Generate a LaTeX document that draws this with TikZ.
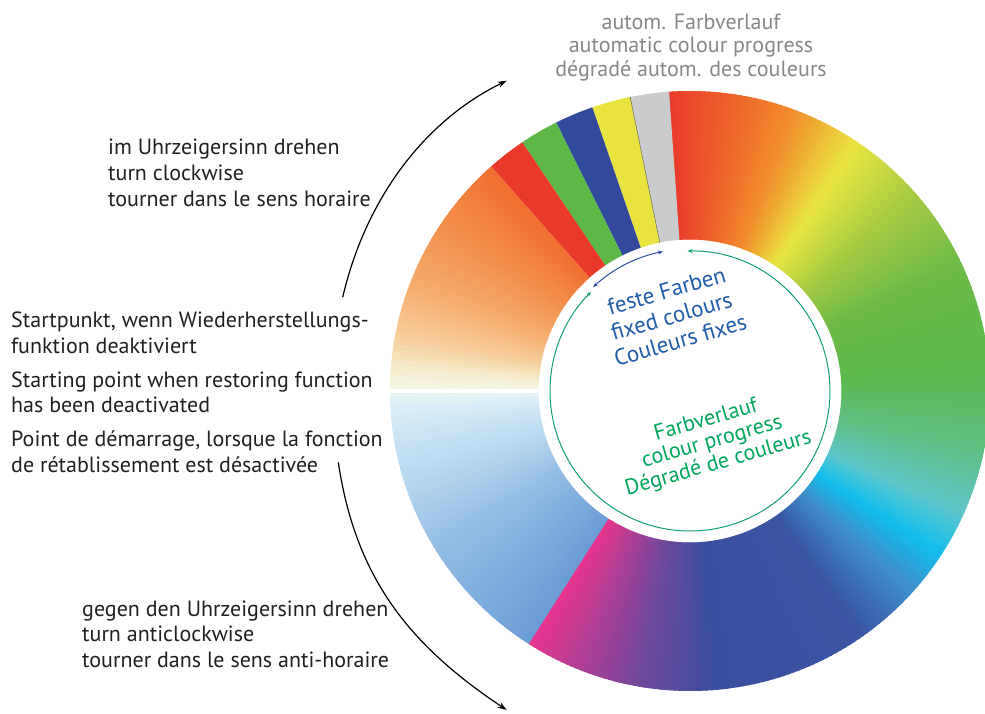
\documentclass[tikz,border=0pt]{standalone}
\usepackage{fontspec}
\setmainfont{PT Sans}
\usetikzlibrary{arrows.meta}
\definecolor{txt}{HTML}{231F20}
\definecolor{greytxt}{HTML}{858789}
\definecolor{bluetxt}{HTML}{1F5CA9}
\definecolor{greentxt}{HTML}{00A65A}
\definecolor{greenarc}{HTML}{12A06A}
\definecolor{bluearc}{HTML}{2B4EA2}
% gradient stops
\definecolor{g01}{HTML}{E8348E}
\definecolor{g02}{HTML}{72489C}
\definecolor{g03}{HTML}{3A4E9F}
\definecolor{g04}{HTML}{3A55A3}
\definecolor{g05}{HTML}{3E8ECB}
\definecolor{g06}{HTML}{12BEEE}
\definecolor{g07}{HTML}{5EC6CA}
\definecolor{g08}{HTML}{5FBF85}
\definecolor{g09}{HTML}{5CB84B}
\definecolor{g10}{HTML}{6DBA46}
\definecolor{g11}{HTML}{A9CC42}
\definecolor{g12}{HTML}{E9E542}
\definecolor{g13}{HTML}{F28C2C}
\definecolor{g14}{HTML}{EE6A2A}
\definecolor{g15}{HTML}{E93B2B}
\definecolor{o1}{HTML}{F07030}
\definecolor{o2}{HTML}{F38C48}
\definecolor{o3}{HTML}{F5AE70}
\definecolor{o4}{HTML}{F7D0A0}
\definecolor{o5}{HTML}{F6EDCF}
\definecolor{o6}{HTML}{F3F7E6}
\definecolor{b1}{HTML}{EAF5F4}
\definecolor{b2}{HTML}{D6ECF7}
\definecolor{b3}{HTML}{BCDCF2}
\definecolor{b4}{HTML}{98C0E5}
\definecolor{b5}{HTML}{7EACDC}
\definecolor{b6}{HTML}{6C9CD5}
\definecolor{fgrey}{HTML}{C9CBCD}
\definecolor{fyellow}{HTML}{E8E33F}
\definecolor{fblue}{HTML}{33499C}
\definecolor{fgreen}{HTML}{5DB847}
\definecolor{fred}{HTML}{E8392A}
\def\Rin{151.5}
\def\Rout{300}
\newcommand\ringseg[4]{%
  \pgfmathsetmacro\rsd{#2-#1}%
  \pgfmathtruncatemacro\rsn{max(1,round(\rsd))}%
  \foreach \rsi in {1,...,\rsn}{%
    \pgfmathsetmacro\rsa{#1+(\rsi-1)*\rsd/\rsn}%
    \pgfmathsetmacro\rsb{#1+\rsi*\rsd/\rsn+0.5}%
    \pgfmathsetmacro\rsp{100*(\rsi-0.5)/\rsn}%
    \fill[#4!\rsp!#3] (\rsa:\Rin) arc[start angle=\rsa,end angle=\rsb,radius=\Rin]
      -- (\rsb:\Rout) arc[start angle=\rsb,end angle=\rsa,radius=\Rout] -- cycle;
  }%
}
\newcommand\ringband[3]{%
  \fill[#3] (#1:\Rin) arc[start angle=#1,end angle=#2,radius=\Rin]
    -- (#2:\Rout) arc[start angle=#2,end angle=#1,radius=\Rout] -- cycle;
}
\tikzset{
  lbl/.style={text=txt, font=\fontsize{22}{26}\selectfont, inner sep=0pt},
  toplbl/.style={text=greytxt, font=\fontsize{22}{24}\selectfont, inner sep=0pt, anchor=base},
  fixlbl/.style={text=bluetxt, font=\fontsize{23}{25.7}\selectfont, inner sep=0pt, align=left, anchor=base west, rotate=16},
  proglbl/.style={text=greentxt, font=\fontsize{22}{22.4}\selectfont, inner sep=0pt, align=center, anchor=base, rotate=16},
  rotarrow/.style={draw=black, line width=1.2pt, -{Stealth[length=9pt,width=6pt]}},
  ringarrow/.style={line width=1pt, {Stealth[length=5pt,width=4pt]}-{Stealth[length=5pt,width=4pt]}},
}
\begin{document}
\begin{tikzpicture}[x=1pt,y=1pt]
\useasboundingbox (0,0) rectangle (985,713);
\clip (0,0) rectangle (985,713);
\begin{scope}[shift={(690,322)}]
  % orange region (left top)
  \ringseg{131.5}{145}{o1}{o2}
  \ringseg{145}{160}{o2}{o3}
  \ringseg{160}{170}{o3}{o4}
  \ringseg{170}{176}{o4}{o5}
  \ringseg{176}{180}{o5}{o6}
  % light blue region (left bottom)
  \ringseg{180}{184}{b1}{b2}
  \ringseg{184}{195}{b2}{b3}
  \ringseg{195}{210}{b3}{b4}
  \ringseg{210}{225}{b4}{b5}
  \ringseg{225}{237.5}{b5}{b6}
  % main colour progress
  \ringseg{-122.5}{-100}{g01}{g02}
  \ringseg{-100}{-85}{g02}{g03}
  \ringseg{-85}{-55}{g03}{g04}
  \ringseg{-55}{-42}{g04}{g05}
  \ringseg{-42}{-33}{g05}{g06}
  \ringseg{-33}{-24}{g06}{g07}
  \ringseg{-24}{-12}{g07}{g08}
  \ringseg{-12}{5}{g08}{g09}
  \ringseg{5}{25}{g09}{g10}
  \ringseg{25}{42}{g10}{g11}
  \ringseg{42}{56}{g11}{g12}
  \ringseg{56}{70}{g12}{g13}
  \ringseg{70}{80}{g13}{g14}
  \ringseg{80}{94}{g14}{g15}
  % fixed colours
  \ringband{94}{101.5}{fgrey}
  \ringband{101.5}{109}{fyellow}
  \ringband{109}{116.5}{fblue}
  \ringband{116.5}{124}{fgreen}
  \ringband{124}{131.5}{fred}
  \draw[line width=0.5pt, black!60] (101.5:\Rin) -- (101.5:\Rout);
  % start point gap
  \fill[white] (-301,-1.8) rectangle (-150,1.8);
  % inner arcs
  \draw[ringarrow, greenarc] (91:140) arc[start angle=91, end angle=-225, radius=140];
  \draw[ringarrow, bluearc] (101:142) arc[start angle=101, end angle=133, radius=142];
\end{scope}

% top label
\node[toplbl] (top1) at (691,683) {autom. Farbverlauf};
\node[toplbl] (top2) at (691,660) {automatic colour progress};
\node[toplbl] (top3) at (691,636) {dégradé autom. des couleurs};

% inner labels
\node[fixlbl] (fix) at (616.7,346.3) {\hspace*{7.8pt}feste Farben\\\hspace*{3.9pt}fixed colours\\Couleurs fixes};
\node[proglbl] (prog) at (720,244) {Farbverlauf\\colour progress\\Dégradé de couleurs};

% left labels
\node[lbl, anchor=base west] (cw1) at (108,558) {im Uhrzeigersinn drehen};
\node[lbl, anchor=base west] (cw2) at (108,532) {turn clockwise};
\node[lbl, anchor=base west] (cw3) at (108,506) {tourner dans le sens horaire};

\node[lbl, anchor=base west] (sp1) at (11,385.7) {Startpunkt, wenn Wiederherstellungs-};
\node[lbl, anchor=base west] (sp2) at (11,359.7) {funktion deaktiviert};
\node[lbl, anchor=base west] (sp3) at (11,325.7) {Starting point when restoring function};
\node[lbl, anchor=base west] (sp4) at (11,300.3) {has been deactivated};
\node[lbl, anchor=base west] (sp5) at (11,266.3) {Point de démarrage, lorsque la fonction};
\node[lbl, anchor=base west] (sp6) at (11,240.3) {de rétablissement est désactivée};

\node[lbl, anchor=base west] (acw1) at (82,96.3) {gegen den Uhrzeigersinn drehen};
\node[lbl, anchor=base west] (acw2) at (82,72) {turn anticlockwise};
\node[lbl, anchor=base west] (acw3) at (82,45.3) {tourner dans le sens anti-horaire};

% rotation arrows
\coordinate (cwS) at (342.7,415.7);
\coordinate (cwE) at (506.7,632.3);
\coordinate (acwS) at (338.3,250.7);
\coordinate (acwE) at (506.7,3);
\draw[rotarrow] (cwS) to[out=77, in=206, looseness=0.9] (cwE);
\draw[rotarrow] (acwS) to[out=-81.5, in=146.3] (acwE);
\end{tikzpicture}
\end{document}
